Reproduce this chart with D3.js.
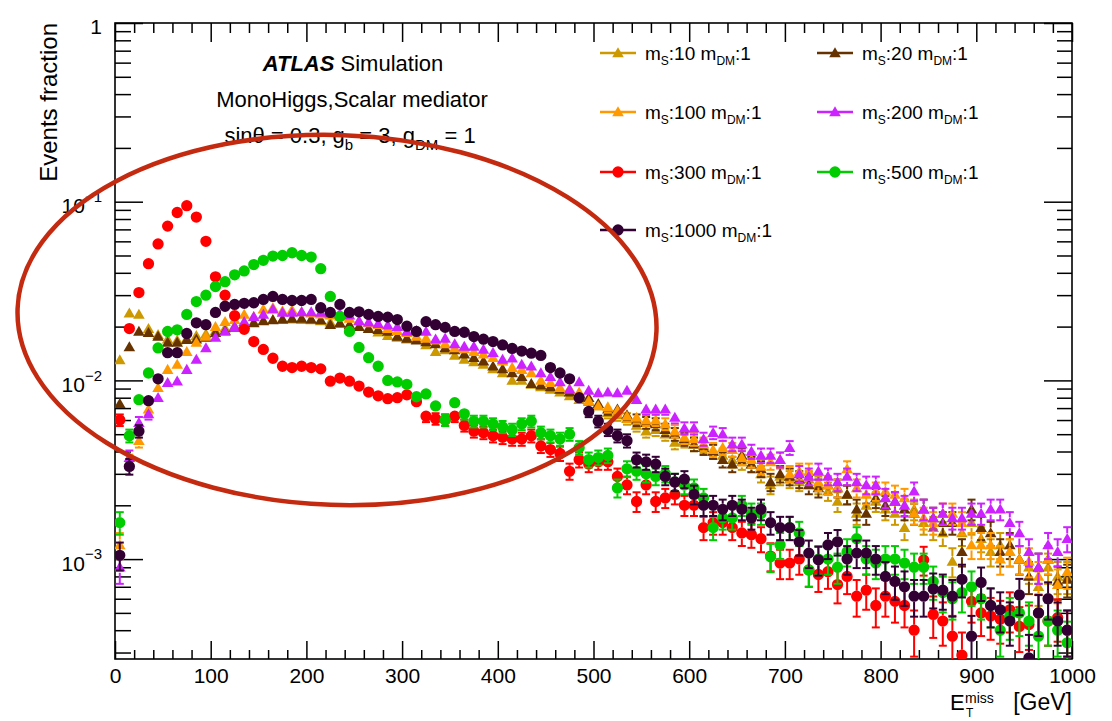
<!DOCTYPE html>
<html>
<head>
<meta charset="utf-8">
<script src="https://cdn.jsdelivr.net/npm/d3@7"></script>
<style>
body{margin:0;background:#fff}
svg{display:block;font-family:"Liberation Sans",Arial,Helvetica,sans-serif}
</style>
</head>
<body>
<svg id="chart"></svg>
<script>
const width=1112
const height=721
const margin={top:23,right:40,bottom:62,left:115}

// 10 GeV bins, 0-1000 GeV
const binCenters=d3.range(5,1000,10)
const xTicks=[0,100,200,300,400,500,600,700,800,900,1000]
const yTicks=[1,0.1,0.01,0.001]
const yMin=2.76e-4

const ms10=[0.0130,0.0238,0.0234,0.0195,0.0180,0.0170,0.0168,0.0172,0.0178,0.0182,
0.0190,0.0196,0.0202,0.0208,0.0212,0.0216,0.0219,0.0219,0.0220,0.0219,
0.0218,0.0215,0.0212,0.0208,0.0204,0.0200,0.0196,0.0186,0.0178,0.0174,
0.0170,0.0169,0.0158,0.0145,0.0148,0.0138,0.0131,0.0127,0.0123,0.0116,
0.0110,0.0100,0.0100,0.0095,0.0092,0.0089,0.0086,0.0082,0.0078,0.0076,
0.0072,0.0066,0.0064,0.0061,0.0056,0.0052,0.0053,0.0050,0.0045,0.0046,
0.0044,0.0043,0.0040,0.0038,0.0036,0.0035,0.0034,0.0030,0.0026,0.0029,
0.0028,0.0027,0.0028,0.0026,0.0024,0.0021,0.0023,0.0018,0.0020,0.0021,
0.0019,0.0018,0.0015,0.0019,0.0016,0.0015,0.0014,0.00097,0.0014,0.0016,
0.0013,0.0011,0.0012,0.0011,0.0010,0.0009,0.0007,0.0009,0.0008,0.0008]

const ms20=[0.0074,0.0154,0.0188,0.0185,0.0176,0.0163,0.0163,0.0169,0.0170,0.0174,
0.0185,0.0190,0.0198,0.0205,0.0210,0.0215,0.0218,0.0220,0.0222,0.0222,
0.0220,0.0218,0.0205,0.0210,0.0205,0.0200,0.0195,0.0192,0.0188,0.0176,
0.0172,0.0168,0.0164,0.0160,0.0152,0.0148,0.0140,0.0134,0.0128,0.0120,
0.0116,0.0110,0.0105,0.0096,0.0094,0.0092,0.0089,0.0086,0.0084,0.0080,
0.0074,0.0069,0.0069,0.0064,0.0060,0.0058,0.0057,0.0053,0.0050,0.0047,
0.0044,0.0042,0.0040,0.0036,0.0034,0.0038,0.0034,0.0032,0.0027,0.0030,
0.0029,0.0028,0.0026,0.0025,0.0026,0.0025,0.0023,0.0019,0.0018,0.0022,
0.0020,0.0021,0.0019,0.0018,0.0019,0.0017,0.0016,0.0016,0.0011,0.0019,
0.0015,0.0014,0.0011,0.0012,0.0010,0.0008,0.0009,0.0010,0.00075,0.00077]

const ms100=[0.0012,0.0035,0.0046,0.0069,0.0091,0.0115,0.0123,0.0145,0.0163,0.0176,
0.0200,0.0213,0.0219,0.0234,0.0227,0.0250,0.0255,0.0245,0.0248,0.0242,
0.0238,0.0235,0.0232,0.0228,0.0222,0.0215,0.0210,0.0205,0.0195,0.0190,
0.0185,0.0176,0.0172,0.0168,0.0160,0.0152,0.0150,0.0145,0.0140,0.0134,
0.0128,0.0118,0.0115,0.0110,0.0100,0.0097,0.0091,0.0090,0.0086,0.0077,
0.0072,0.0071,0.0068,0.0063,0.0062,0.0060,0.0060,0.0057,0.0052,0.0048,
0.0047,0.0044,0.0041,0.0042,0.0041,0.0037,0.0036,0.0033,0.0035,0.0036,
0.0030,0.0031,0.0031,0.0027,0.0026,0.0025,0.0032,0.0025,0.0023,0.0024,
0.0024,0.0023,0.0022,0.0018,0.0017,0.0016,0.0018,0.0018,0.0016,0.0012,
0.0012,0.0012,0.0010,0.0011,0.0010,0.00097,0.0008,0.0010,0.00072,0.00085]

const ms200=[0.0009,0.0037,0.0058,0.0065,0.0080,0.0097,0.0099,0.0115,0.0131,0.0152,
0.0174,0.0188,0.0200,0.0213,0.0227,0.0234,0.0250,0.0240,0.0240,0.0242,
0.0242,0.0240,0.0238,0.0236,0.0232,0.0215,0.0212,0.0208,0.0204,0.0200,
0.0188,0.0190,0.0188,0.0170,0.0172,0.0160,0.0155,0.0155,0.0149,0.0143,
0.0131,0.0133,0.0123,0.0120,0.0110,0.0105,0.0098,0.0089,0.0098,0.0088,
0.0085,0.0086,0.0085,0.0088,0.0078,0.0069,0.0069,0.0069,0.0062,0.0054,
0.0054,0.0047,0.0051,0.0050,0.0044,0.0044,0.0040,0.0038,0.0038,0.0036,
0.0042,0.0030,0.0029,0.0031,0.0029,0.0027,0.0029,0.0027,0.0026,0.0026,
0.0022,0.0021,0.0020,0.0024,0.0019,0.0017,0.0018,0.0017,0.0017,0.0018,
0.0018,0.0019,0.0019,0.0016,0.0014,0.0011,0.0009,0.0012,0.0011,0.0013]

const ms300=[0.0060,0.0195,0.031,0.045,0.058,0.073,0.087,0.095,0.082,0.060,
0.038,0.030,0.023,0.0193,0.0165,0.0149,0.0133,0.0120,0.0118,0.0120,
0.0118,0.0116,0.0099,0.0103,0.0099,0.0093,0.0086,0.0082,0.0079,0.0080,
0.0083,0.0076,0.0063,0.0061,0.0060,0.0063,0.0056,0.0052,0.0051,0.0049,
0.0048,0.0047,0.0047,0.0049,0.0043,0.0041,0.0039,0.0031,0.0036,0.0034,
0.0035,0.0035,0.0029,0.0026,0.0021,0.0026,0.0021,0.0022,0.0023,0.0020,
0.0020,0.0015,0.0016,0.0016,0.0015,0.0014,0.00137,0.0013,0.00104,0.00095,
0.00095,0.0010,0.00087,0.00082,0.00085,0.00072,0.0008,0.00062,0.00067,0.00055,
0.00062,0.00058,0.00055,0.00040,0.00099,0.00049,0.00045,0.00037,0.00029,0.00058,
0.00050,0.00048,0.00046,0.00052,0.00042,0.00043,0.00050,0.00045,0.00047,0.00040]

const ms500=[0.0016,0.0049,0.0078,0.011,0.0152,0.0188,0.0192,0.0234,0.0276,0.030,
0.0335,0.0357,0.039,0.041,0.0445,0.047,0.0496,0.050,0.0518,0.050,
0.049,0.0422,0.0295,0.0228,0.0188,0.0153,0.0134,0.0120,0.0100,0.0098,
0.0095,0.0081,0.0084,0.0072,0.0060,0.0075,0.0065,0.0059,0.0059,0.0057,
0.0055,0.0053,0.0057,0.0059,0.0051,0.0049,0.0047,0.0050,0.0042,0.0036,
0.0037,0.0038,0.0025,0.0032,0.0031,0.0030,0.0029,0.0030,0.0027,0.0026,
0.0025,0.0022,0.0015,0.0017,0.0017,0.0020,0.0018,0.0018,0.00103,0.0012,
0.0015,0.0014,0.00087,0.0010,0.0010,0.0009,0.0011,0.0013,0.0010,0.00095,
0.0010,0.0010,0.00095,0.0009,0.0009,0.00075,0.00065,0.0006,0.00065,0.0007,
0.0006,0.00055,0.0004,0.00048,0.0005,0.00045,0.00037,0.00045,0.0004,0.00034]

const ms1000=[0.00105,0.0033,0.0052,0.0077,0.0102,0.0143,0.0143,0.0183,0.021,0.0205,
0.024,0.026,0.0266,0.027,0.0272,0.0284,0.0295,0.0284,0.028,0.028,
0.0284,0.0255,0.0240,0.0266,0.0240,0.0242,0.0234,0.0228,0.0226,0.0219,
0.0201,0.0188,0.0213,0.0205,0.0198,0.0188,0.0186,0.0176,0.0170,0.0165,
0.0158,0.0151,0.0146,0.0142,0.0138,0.0118,0.0110,0.0102,0.0080,0.0067,
0.0059,0.0053,0.0049,0.0046,0.0036,0.0035,0.0034,0.0029,0.0027,0.0028,
0.0023,0.0020,0.0020,0.0019,0.0020,0.0019,0.0017,0.0019,0.0016,0.0015,
0.0015,0.00125,0.00108,0.00099,0.0012,0.00125,0.0010,0.00108,0.00108,0.0010,
0.0008,0.00075,0.0007,0.00062,0.00062,0.00068,0.00067,0.00062,0.00077,0.00037,
0.00074,0.00055,0.00052,0.00045,0.00063,0.00028,0.0005,0.0006,0.00045,0.0004]

// effective MC statistics used for the error bars
const nEff=30000

const series=[
    {mass:'10',values:ms10,color:'#cc9900',marker:'tri'},
    {mass:'20',values:ms20,color:'#663300',marker:'tri'},
    {mass:'100',values:ms100,color:'#ff9900',marker:'tri'},
    {mass:'200',values:ms200,color:'#cc22ff',marker:'tri'},
    {mass:'300',values:ms300,color:'#ff0000',marker:'circ'},
    {mass:'500',values:ms500,color:'#00cc00',marker:'circ'},
    {mass:'1000',values:ms1000,color:'#330033',marker:'circ'}
]

const svg=d3.select('#chart')
    .attr('width',width)
    .attr('height',height)
    .style('background','#fff')

const X=d3.scaleLinear().domain([0,1000]).range([margin.left,width-margin.right])
const Y=d3.scaleLog().domain([yMin,1]).range([height-margin.bottom,margin.top])

const x0=X.range()[0], x1=X.range()[1]
const y0=Y.range()[0], y1=Y.range()[1]

const symbols={
    tri:d3.symbol(d3.symbolTriangle,58)(),
    circ:d3.symbol(d3.symbolCircle,100)()
}
const mHalf=5.5

svg.append('clipPath').attr('id','plotclip')
    .append('rect').attr('x',x0).attr('y',y1).attr('width',x1-x0).attr('height',y0-y1)

//坐标轴
const xMinor=d3.range(0,1001,20).filter(v=>v%100!==0)
const yMinor=[]
for(let e=-4;e<0;e++){
    for(let m=2;m<10;m++){
        const v=m*Math.pow(10,e)
        if(v>yMin && v<1) yMinor.push(v)
    }
}

function styleAxis(g){
    g.select('.domain').remove()
    g.selectAll('line').attr('stroke','#000').attr('stroke-width',1.5)
    g.selectAll('text').attr('fill','#000').attr('font-size',21)
}

svg.append('g').attr('transform',`translate(0,${y0})`)
    .call(d3.axisBottom(X).tickValues(xTicks).tickFormat(d3.format('d'))
        .tickSizeInner(-18).tickSizeOuter(0).tickPadding(9))
    .call(styleAxis)
svg.append('g').attr('transform',`translate(0,${y0})`)
    .call(d3.axisBottom(X).tickValues(xMinor).tickSizeInner(-9).tickSizeOuter(0).tickFormat(''))
    .call(styleAxis)
svg.append('g').attr('transform',`translate(0,${y1})`)
    .call(d3.axisTop(X).tickValues(xTicks).tickSizeInner(-19).tickSizeOuter(0).tickFormat(''))
    .call(styleAxis)
svg.append('g').attr('transform',`translate(0,${y1})`)
    .call(d3.axisTop(X).tickValues(xMinor).tickSizeInner(-10).tickSizeOuter(0).tickFormat(''))
    .call(styleAxis)

const yAxisG=svg.append('g').attr('transform',`translate(${x0},0)`)
    .call(d3.axisLeft(Y).tickValues(yTicks).tickSizeInner(-28).tickSizeOuter(0).tickPadding(13))
    .call(styleAxis)
svg.append('g').attr('transform',`translate(${x0},0)`)
    .call(d3.axisLeft(Y).tickValues(yMinor).tickSizeInner(-16).tickSizeOuter(0).tickFormat(''))
    .call(styleAxis)
svg.append('g').attr('transform',`translate(${x1},0)`)
    .call(d3.axisRight(Y).tickValues(yTicks).tickSizeInner(-28).tickSizeOuter(0).tickFormat(''))
    .call(styleAxis)
svg.append('g').attr('transform',`translate(${x1},0)`)
    .call(d3.axisRight(Y).tickValues(yMinor).tickSizeInner(-15).tickSizeOuter(0).tickFormat(''))
    .call(styleAxis)

// 10^n labels
yAxisG.selectAll('.tick text').each(function(d){
    const t=d3.select(this).attr('dy','0.52em').text(null)
    const e=Math.round(Math.log10(d))
    if(e===0){t.text('1');return}
    t.append('tspan').text('10')
    t.append('tspan').attr('font-size',15).attr('dy','-0.75em').text('\u2212'+(-e))
})

// frame
svg.append('rect').attr('x',x0).attr('y',y1).attr('width',x1-x0).attr('height',y0-y1)
    .attr('fill','none').attr('stroke','#000').attr('stroke-width',1.6)

//画点
const plot=svg.append('g').attr('clip-path','url(#plotclip)')
series.forEach(s=>{
    const pts=s.values.map((v,i)=>({x:binCenters[i],v:v,e:Math.sqrt(v/nEff)}))
    const g=plot.append('g').attr('class','series')
    pts.forEach(d=>{
        const cx=X(d.x), cy=Y(d.v)
        const yUp=Y(d.v+d.e)
        const yDn=d.v-d.e>0?Y(d.v-d.e):y0+20
        if(yUp<cy-mHalf){
            g.append('line').attr('x1',cx).attr('x2',cx).attr('y1',yUp).attr('y2',cy-mHalf)
            g.append('line').attr('x1',cx-4).attr('x2',cx+4).attr('y1',yUp).attr('y2',yUp)
        }
        if(yDn>cy+mHalf){
            g.append('line').attr('x1',cx).attr('x2',cx).attr('y1',cy+mHalf).attr('y2',yDn)
            g.append('line').attr('x1',cx-4).attr('x2',cx+4).attr('y1',yDn).attr('y2',yDn)
        }
    })
    g.selectAll('line').attr('stroke',s.color).attr('stroke-width',2)
    g.selectAll('path').data(pts).join('path')
        .attr('d',symbols[s.marker])
        .attr('transform',d=>`translate(${X(d.x)},${Y(d.v)+(s.marker==='tri'?1:0)})`)
        .attr('fill',s.color)
})

// texts
const label=svg.append('g').attr('fill','#000').attr('font-size',22).attr('text-anchor','middle')
const t1=label.append('text').attr('x',353).attr('y',71)
t1.append('tspan').attr('font-weight','bold').attr('font-style','italic').text('ATLAS')
t1.append('tspan').text(' Simulation')
label.append('text').attr('x',352).attr('y',107).text('MonoHiggs,Scalar mediator')
const t3=label.append('text').attr('x',350).attr('y',143)
t3.append('tspan').text('sin\u03b8 = 0.3, g')
t3.append('tspan').attr('font-size',15).attr('dy',7).text('b')
t3.append('tspan').attr('dy',-7).text(' = 3, g')
t3.append('tspan').attr('font-size',15).attr('dy',7).text('DM')
t3.append('tspan').attr('dy',-7).text(' = 1')

svg.append('text').attr('transform','rotate(-90)')
    .attr('x',-y1).attr('y',57)
    .attr('text-anchor','end').attr('font-size',24).attr('fill','#000')
    .text('Events fraction')

// E_T^miss [GeV]
const xt=svg.append('g').attr('fill','#000')
xt.append('text').attr('x',950).attr('y',710).attr('font-size',22).text('E')
xt.append('text').attr('x',965).attr('y',703).attr('font-size',14).text('miss')
xt.append('text').attr('x',966).attr('y',717).attr('font-size',12).text('T')
xt.append('text').attr('x',x1).attr('y',710).attr('font-size',23).attr('text-anchor','end').text('[GeV]')

// legend
const legCols=[600,817]
const legRows=[53,112,172,230]
const legend=svg.append('g').attr('font-size',19).attr('fill','#000')
series.forEach((s,i)=>{
    const lx=legCols[i%2], ly=legRows[Math.floor(i/2)]
    const g=legend.append('g').attr('transform',`translate(${lx},${ly})`)
    g.append('line').attr('x1',0).attr('x2',36).attr('y1',0).attr('y2',0)
        .attr('stroke',s.color).attr('stroke-width',2.5)
    g.append('path').attr('d',symbols[s.marker])
        .attr('transform',`translate(18,${s.marker==='tri'?1:0})`).attr('fill',s.color)
    const t=g.append('text').attr('x',45).attr('y',7)
    t.append('tspan').text('m')
    t.append('tspan').attr('font-size',12).attr('dy',5).text('S')
    t.append('tspan').attr('dy',-5).text(':'+s.mass+' m')
    t.append('tspan').attr('font-size',12).attr('dy',5).text('DM')
    t.append('tspan').attr('dy',-5).text(':1')
})

// red ellipse annotation (data space extent)
const ringX=[-102,566]
const ringY=[0.00201,0.236]
const ecx=(X(ringX[0])+X(ringX[1]))/2
const ecy=(Y(ringY[0])+Y(ringY[1]))/2
svg.append('ellipse')
    .attr('cx',ecx).attr('cy',ecy)
    .attr('rx',(X(ringX[1])-X(ringX[0]))/2)
    .attr('ry',(Y(ringY[0])-Y(ringY[1]))/2)
    .attr('transform',`rotate(2,${ecx},${ecy})`)
    .attr('fill','none').attr('stroke','#c42a10').attr('stroke-width',4.5)
</script>
</body>
</html>
